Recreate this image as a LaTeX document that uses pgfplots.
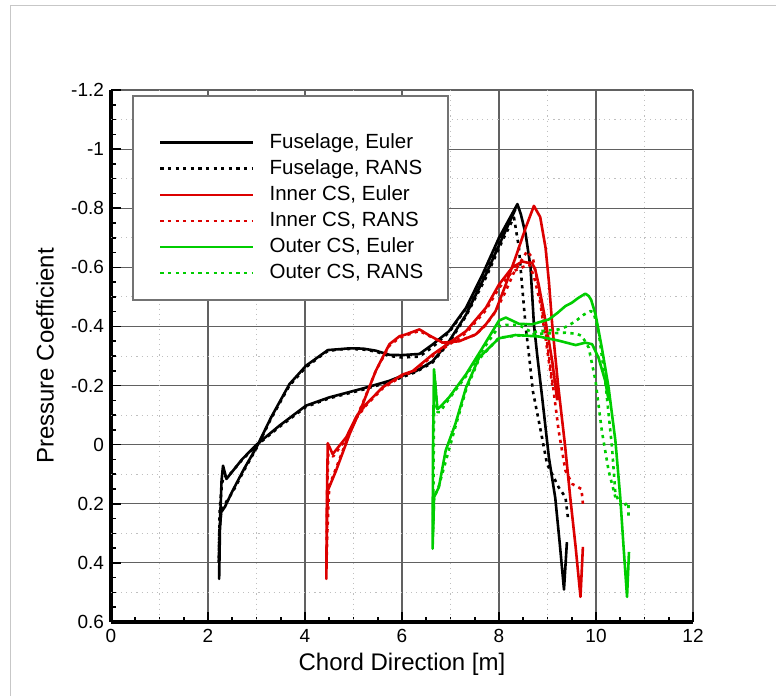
\documentclass[border=0pt]{standalone}
\usepackage{fontspec}
\setmainfont{Liberation Sans}
\usepackage{pgfplots}
\pgfplotsset{compat=1.18}
\definecolor{cpred}{RGB}{220,0,0}
\definecolor{cpgreen}{RGB}{0,205,0}
\tikzset{
  euler/.style={line width=1.3bp, solid, line join=round},
  rans/.style={line width=1.3bp, dash pattern=on 1.6bp off 2.2bp, line join=round},
}
\begin{document}
\begin{tikzpicture}
\begin{axis}[
  scale only axis, width=291bp, height=266bp,
  xmin=0, xmax=12, ymin=-1.2, ymax=0.6, y dir=reverse,
  axis lines=left,
  axis line style={-, line width=1.9bp, black},
  xtick={0,2,4,6,8,10,12}, xticklabels={0,2,4,6,8,10,12},
  ytick={-1.2,-1,-0.8,-0.6,-0.4,-0.2,0,0.2,0.4,0.6},
  yticklabels={-1.2,-1,-0.8,-0.6,-0.4,-0.2,0,0.2,0.4,0.6},
  minor x tick num=3, minor y tick num=3,
  tick align=inside,
  major tick length=5bp, minor tick length=2.5bp,
  tick style={black, line width=0.8bp},
  grid=major,
  major grid style={black!62, line width=0.55bp},
  extra x ticks={1,3,5,7,9,11}, extra x tick labels={,,,,,},
  extra x tick style={grid=major, major grid style={black!25, dotted, line width=0.5bp}, major tick length=0pt},
  extra y ticks={-1.1,-0.9,-0.7,-0.5,-0.3,-0.1,0.1,0.3,0.5}, extra y tick labels={,,,,,,,,},
  extra y tick style={grid=major, major grid style={black!25, dotted, line width=0.5bp}, major tick length=0pt},
  tick label style={font=\fontsize{9.5bp}{11bp}\selectfont},
  xlabel={Chord Direction [m]},
  ylabel={Pressure Coefficient},
  label style={font=\fontsize{12bp}{14bp}\selectfont},
  xlabel style={at={(axis description cs:0.5,-0.08)}, anchor=center},
  ylabel style={at={(axis description cs:-0.1134,0.5)}, anchor=center},
  no markers,
  legend style={draw=none, fill=none, inner sep=0pt, outer sep=0pt,
    at={(axis description cs:0.0825,0.9182)}, anchor=north west,
    font=\fontsize{10.25bp}{12bp}\selectfont,
    row sep=4.2bp, nodes={inner sep=0pt},
    /tikz/every odd column/.append style={column sep=7.5bp}},
  legend cell align=left,
  legend image code/.code={\draw[#1] (0bp,0bp) -- (46.5bp,0bp);},
]
\coordinate (o) at (axis description cs:0,0);
\fill[white] (axis description cs:0.0378,0.9887) rectangle (axis description cs:0.579,0.6053);
\draw[black!55, line width=0.6bp] (axis description cs:0.0378,0.9887) rectangle (axis description cs:0.579,0.6053);

% Fuselage, Euler
\addplot[euler, black] coordinates {
(9.40,0.33) (9.34,0.49) (9.25,0.33) (9.16,0.18) (9.03,0.045) (8.89,-0.16) (8.79,-0.30) (8.72,-0.407) (8.65,-0.60) (8.55,-0.712) (8.45,-0.78) (8.38,-0.814)
(8.2,-0.76) (8.0,-0.70) (7.66,-0.576) (7.32,-0.463) (6.97,-0.384) (6.63,-0.339) (6.36,-0.307) (6.0,-0.303) (5.74,-0.304) (5.46,-0.318) (5.2,-0.325) (4.92,-0.326) (4.7,-0.323) (4.47,-0.32) (4.3,-0.30) (4.02,-0.267) (3.68,-0.205) (3.3,-0.092) (3.0,0.009) (2.75,0.08) (2.51,0.155) (2.35,0.21) (2.27,0.229) (2.24,0.30) (2.23,0.454)
(2.25,0.25) (2.28,0.12) (2.31,0.071) (2.38,0.116) (2.7,0.05) (3.0,0.0) (3.47,-0.064) (4.02,-0.132) (4.5,-0.16) (5.19,-0.19) (5.74,-0.216) (6.0,-0.233) (6.29,-0.249) (6.63,-0.282) (6.97,-0.35) (7.32,-0.44) (7.73,-0.576) (8.07,-0.70) (8.34,-0.797)
};
\addlegendentry{Fuselage, Euler}
% Fuselage, RANS
\addplot[rans, black] coordinates {
(9.42,0.245) (9.37,0.178) (9.23,0.144) (8.99,0.065) (8.86,-0.047) (8.70,-0.18) (8.62,-0.30) (8.55,-0.40) (8.48,-0.53) (8.41,-0.667) (8.31,-0.768)
(8.15,-0.72) (8.0,-0.68) (7.66,-0.57) (7.32,-0.46) (6.97,-0.38) (6.63,-0.33) (6.36,-0.298) (6.0,-0.295) (5.74,-0.30) (5.46,-0.315) (5.2,-0.322) (4.92,-0.324) (4.7,-0.322) (4.47,-0.317) (4.3,-0.297) (4.02,-0.262) (3.68,-0.2) (3.3,-0.088) (3.0,0.012) (2.75,0.085) (2.51,0.16) (2.35,0.2) (2.27,0.23) (2.23,0.30) (2.22,0.40)
(2.24,0.22) (2.29,0.13) (2.33,0.105) (2.40,0.11) (2.7,0.052) (3.0,0.003) (3.47,-0.06) (4.02,-0.128) (4.5,-0.157) (5.19,-0.186) (5.74,-0.212) (6.0,-0.228) (6.29,-0.246) (6.63,-0.278) (6.97,-0.345) (7.32,-0.435) (7.73,-0.565) (8.07,-0.69) (8.25,-0.75)
};
\addlegendentry{Fuselage, RANS}
% Inner CS, Euler
\addplot[euler, cpred] coordinates {
(9.73,0.346) (9.68,0.515) (9.58,0.346) (9.47,0.18) (9.36,0.0) (9.22,-0.2) (9.10,-0.40) (9.03,-0.55) (8.96,-0.666) (8.85,-0.77) (8.72,-0.808)
(8.55,-0.734) (8.34,-0.633) (8.14,-0.542) (7.93,-0.452) (7.73,-0.407) (7.52,-0.373) (7.18,-0.35) (6.84,-0.345) (6.56,-0.37) (6.36,-0.39) (6.08,-0.373) (5.95,-0.367) (5.74,-0.34) (5.46,-0.25) (5.19,-0.137) (4.92,-0.036) (4.64,0.088) (4.47,0.155) (4.45,0.30) (4.44,0.454)
(4.45,0.2) (4.47,-0.005) (4.57,0.032) (4.85,-0.025) (5.05,-0.092) (5.26,-0.137) (5.60,-0.194) (6.01,-0.237) (6.22,-0.249) (6.63,-0.305) (7.32,-0.384) (7.73,-0.463) (8.0,-0.542) (8.27,-0.599) (8.48,-0.62) (8.58,-0.616) (8.68,-0.616) (8.75,-0.59) (8.82,-0.54) (8.96,-0.418) (9.10,-0.28) (9.20,-0.15)
};
\addlegendentry{Inner CS, Euler}
% Inner CS, RANS
\addplot[rans, cpred] coordinates {
(9.73,0.20) (9.70,0.15) (9.51,0.133) (9.37,0.088) (9.23,-0.047) (9.10,-0.216) (8.96,-0.385) (8.82,-0.531) (8.70,-0.63) (8.58,-0.655)
(8.45,-0.62) (8.30,-0.58) (8.14,-0.52) (7.93,-0.45) (7.73,-0.405) (7.52,-0.372) (7.18,-0.352) (6.84,-0.345) (6.56,-0.368) (6.36,-0.385) (6.08,-0.37) (5.95,-0.362) (5.74,-0.335) (5.46,-0.25) (5.19,-0.14) (4.92,-0.04) (4.64,0.08) (4.50,0.14) (4.46,0.30) (4.44,0.42)
(4.46,0.15) (4.48,0.03) (4.58,0.04) (4.85,-0.02) (5.05,-0.088) (5.26,-0.133) (5.60,-0.19) (6.01,-0.233) (6.22,-0.246) (6.63,-0.3) (7.32,-0.378) (7.73,-0.455) (8.0,-0.53) (8.27,-0.585) (8.48,-0.60) (8.62,-0.61) (8.72,-0.57) (8.85,-0.48) (8.96,-0.36) (9.10,-0.20)
};
\addlegendentry{Inner CS, RANS}
% Outer CS, Euler
\addplot[euler, cpgreen] coordinates {
(10.68,0.363) (10.64,0.515) (10.57,0.35) (10.50,0.178) (10.40,-0.013) (10.26,-0.193) (10.12,-0.328) (9.99,-0.441) (9.90,-0.49) (9.85,-0.503) (9.78,-0.511) (9.64,-0.497) (9.50,-0.48) (9.37,-0.469) (9.2,-0.445) (9.03,-0.424) (8.68,-0.407) (8.41,-0.409) (8.14,-0.43) (8.0,-0.42) (7.66,-0.328) (7.32,-0.238) (6.97,-0.16) (6.80,-0.13) (6.73,-0.12) (6.66,-0.255) (6.64,0.0) (6.63,0.352)
(6.65,0.25) (6.66,0.178) (6.76,0.144) (6.9,0.02) (7.10,-0.07) (7.32,-0.193) (7.59,-0.295) (8.0,-0.36) (8.34,-0.371) (8.82,-0.366) (9.23,-0.352) (9.58,-0.337) (9.78,-0.345) (9.92,-0.340) (10.05,-0.295) (10.19,-0.216) (10.26,-0.15)
};
\addlegendentry{Outer CS, Euler}
% Outer CS, RANS
\addplot[rans, cpgreen] coordinates {
(10.67,0.24) (10.67,0.195) (10.53,0.211) (10.40,0.166) (10.33,0.009) (10.19,-0.216) (10.05,-0.385) (9.95,-0.447) (9.89,-0.452) (9.75,-0.44) (9.58,-0.418) (9.40,-0.40) (9.23,-0.39) (8.9,-0.385) (8.68,-0.38) (8.41,-0.405) (8.14,-0.405) (8.0,-0.40) (7.66,-0.32) (7.32,-0.232) (6.97,-0.155) (6.78,-0.11) (6.73,-0.11) (6.68,-0.22) (6.66,-0.1) (6.64,0.30)
(6.66,0.18) (6.76,0.14) (7.10,-0.06) (7.32,-0.185) (7.59,-0.29) (8.0,-0.362) (8.68,-0.374) (9.37,-0.379) (9.60,-0.375) (9.71,-0.368) (9.85,-0.328) (9.99,-0.216) (10.12,-0.047) (10.26,0.088) (10.40,0.178)
};
\addlegendentry{Outer CS, RANS}
\end{axis}
\draw[black!22, line width=0.5bp] ([shift={(-50bp,-40bp)}]o) -- ([shift={(-50bp,308bp)}]o) -- ([shift={(335bp,308bp)}]o);
\pgfresetboundingbox
\path ([shift={(-55.5bp,-37bp)}]o) rectangle ([shift={(332.5bp,311bp)}]o);
\end{tikzpicture}
\end{document}
